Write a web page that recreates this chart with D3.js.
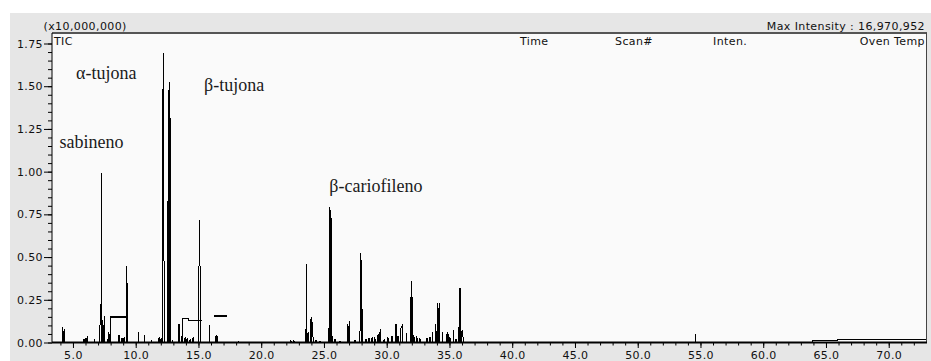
<!DOCTYPE html>
<html>
<head>
<meta charset="utf-8">
<script src="https://cdn.jsdelivr.net/npm/d3@7"></script>
<style>
  html, body { margin: 0; padding: 0; background: #ffffff; }
  svg { display: block; }
  .ui { font-family: "DejaVu Sans", sans-serif; font-size: 11px; letter-spacing: 0.4px; fill: #111; }
  .cmp { font-family: "Liberation Serif", "Times New Roman", serif; font-size: 18px; fill: #1a1a1a; }
</style>
</head>
<body>
<script>
// Total ion chromatogram, intensity in units of 10,000,000 counts
const timeRange = [3.33, 72.97];
const intensityTicks = [0, 0.25, 0.5, 0.75, 1.0, 1.25, 1.5, 1.75];
const intensityMinorTicks = d3.range(0, 1.8, 0.05);
const timeTicks = [5, 10, 15, 20, 25, 30, 35, 40, 45, 50, 55, 60, 65, 70];
const timeMinorTicks = d3.range(4, 73, 1);
const maxIntensity = 16970952;
const columnHeads = ["Time", "Scan#", "Inten.", "Oven Temp"];

// detected signal apexes: [retention time (min), intensity (x10^7)]
const peakTimes = [
  4.15, 4.29, 5.88, 6.04, 6.18, 6.70,
  7.16, 7.23, 7.29, 7.39, 7.50, 7.74, 7.87,
  8.67, 8.91, 9.07, 9.28, 9.35,
  10.21, 10.69, 11.27, 11.86, 12.02,
  12.15, 12.20, 12.25,
  12.55, 12.60, 12.73, 12.95,
  13.45, 13.67, 13.93, 14.09, 14.33, 14.57,
  15.02, 15.07, 15.12, 15.18,
  15.86, 16.40, 16.48, 18.18, 22.37, 22.61,
  23.53, 23.63, 23.73, 23.97, 24.05, 24.13, 24.37, 24.68,
  25.40, 25.46, 25.56, 25.64, 25.88, 26.28,
  26.89, 27.00, 27.47,
  27.87, 27.95, 28.06, 28.35, 28.59, 28.83, 29.06,
  29.31, 29.47, 29.79, 30.10, 30.42, 30.74, 30.90,
  31.14, 31.22, 31.59,
  31.91, 32.01, 32.17, 32.41, 32.65,
  33.21, 33.45, 33.63, 33.92, 34.05, 34.17, 34.43,
  34.78, 34.88, 35.04, 35.34, 35.52,
  35.76, 35.84, 36.00, 36.08,
  54.62
];
const peakHeights = [
  0.092, 0.080, 0.022, 0.024, 0.035, 0.020,
  0.130, 0.140, 0.993, 0.130, 0.157, 0.020, 0.060,
  0.045, 0.025, 0.030, 0.448, 0.186,
  0.061, 0.044, 0.015, 0.030, 0.025,
  1.260, 1.697, 0.640,
  0.196, 1.477, 1.526, 0.015,
  0.108, 0.035, 0.030, 0.025, 0.020, 0.030,
  0.190, 0.716, 0.470, 0.180,
  0.102, 0.044, 0.040, 0.010, 0.012, 0.012,
  0.080, 0.457, 0.060, 0.150, 0.120, 0.030, 0.015, 0.010,
  0.040, 0.795, 0.778, 0.040, 0.020, 0.010,
  0.110, 0.125, 0.015,
  0.050, 0.522, 0.196, 0.020, 0.025, 0.030, 0.030,
  0.050, 0.079, 0.020, 0.030, 0.040, 0.106, 0.040,
  0.090, 0.098, 0.054,
  0.264, 0.360, 0.045, 0.035, 0.025,
  0.025, 0.030, 0.064, 0.107, 0.233, 0.230, 0.060,
  0.050, 0.060, 0.030, 0.073, 0.020,
  0.090, 0.317, 0.070, 0.030,
  0.048
];

// late baseline drift: [start time, end time, level]
const driftStarts = [63.91, 65.90];
const driftEnds = [65.90, 72.97];
const driftLevels = [0.010, 0.016];

// integration marks drawn over the trace: [time, intensity] vertices
const markA = [[8.01, 0], [8.01, 0.150], [9.35, 0.150]];
const markB = [[13.74, 0], [13.74, 0.142], [14.19, 0.142], [14.19, 0.130], [15.26, 0.130]];
const markC = [[16.24, 0.155], [17.25, 0.155]];

// compound names
const compoundNames = ["sabineno", "α-tujona", "β-tujona", "β-cariofileno"];

const W = 931, H = 361;
const panel = { left: 10, top: 13 };
const plot = { left: 52, right: 926, top: 33, bottom: 342.5 };

const svg = d3.select("body").append("svg").attr("width", W).attr("height", H);

const x = d3.scaleLinear().domain(timeRange).range([plot.left, plot.right]);
const y = d3.scaleLinear().domain([0, 1.75]).range([plot.bottom, 43.5]);

// backgrounds
svg.append("rect").attr("x", panel.left).attr("y", panel.top)
  .attr("width", W - panel.left).attr("height", H - panel.top).attr("fill", "#e6e6e6");
svg.append("rect").attr("x", plot.left).attr("y", plot.top)
  .attr("width", plot.right - plot.left).attr("height", plot.bottom - plot.top).attr("fill", "#fafafa");

// frame: top and right borders
svg.append("line").attr("x1", plot.left).attr("x2", plot.right + 1)
  .attr("y1", plot.top).attr("y2", plot.top).attr("stroke", "#555").attr("stroke-width", 2);
svg.append("line").attr("x1", plot.right + 0.5).attr("x2", plot.right + 0.5)
  .attr("y1", plot.top).attr("y2", plot.bottom).attr("stroke", "#444").attr("stroke-width", 1);

// build the chromatogram path from the apex list
const order = d3.range(peakTimes.length).sort((a, b) => peakTimes[a] - peakTimes[b]);
const half = 0.02, joinGap = 0.08;
const trace = [[timeRange[0], 0]];
let prevT = null;
order.forEach(i => {
  const t = peakTimes[i], h = peakHeights[i];
  if (prevT === null || t - prevT > joinGap) {
    if (prevT !== null) trace.push([prevT + half, 0]);
    trace.push([t - half, 0]);
  }
  trace.push([t, h]);
  prevT = t;
});
trace.push([prevT + half, 0]);
driftStarts.forEach((s, i) => {
  trace.push([s, i ? driftLevels[i - 1] : 0]);
  trace.push([s, driftLevels[i]]);
  trace.push([driftEnds[i], driftLevels[i]]);
});

const line = d3.line().x(d => x(d[0])).y(d => y(d[1]));

svg.append("path").datum(trace).attr("d", line)
  .attr("fill", "none").attr("stroke", "#000").attr("stroke-width", 1)
  .attr("shape-rendering", "crispEdges");

[markA, markB, markC].forEach(m => {
  svg.append("path").datum(m).attr("d", line)
    .attr("fill", "none").attr("stroke", "#000").attr("stroke-width", 1.3)
    .attr("shape-rendering", "crispEdges");
});

// intensity axis
const yMinor = svg.append("g").attr("transform", `translate(${plot.left},0)`)
  .call(d3.axisLeft(y).tickValues(intensityMinorTicks).tickSize(4).tickFormat(""));
yMinor.select(".domain").remove();
const yAxis = svg.append("g").attr("transform", `translate(${plot.left},0)`)
  .call(d3.axisLeft(y).tickValues(intensityTicks).tickSize(8).tickPadding(1)
    .tickFormat(d3.format(".2f")));
yAxis.select(".domain").attr("d", `M0,${plot.top}V${plot.bottom}`);
yAxis.selectAll("text").attr("class", "ui").attr("fill", null).attr("font-family", null).attr("font-size", null);

// time axis
const xMinor = svg.append("g").attr("transform", `translate(0,${plot.bottom})`)
  .call(d3.axisBottom(x).tickValues(timeMinorTicks).tickSize(3).tickFormat(""));
xMinor.select(".domain").remove();
const xAxis = svg.append("g").attr("transform", `translate(0,${plot.bottom})`)
  .call(d3.axisBottom(x).tickValues(timeTicks).tickSize(5.5).tickPadding(3)
    .tickFormat(d3.format(".1f")));
xAxis.select(".domain").attr("d", `M${plot.left},0H${plot.right + 1}`)
  .attr("stroke", "#000").attr("stroke-width", 2);
xAxis.selectAll("text").attr("class", "ui").attr("fill", null).attr("font-family", null).attr("font-size", null);
svg.selectAll(".tick line").attr("stroke", "#000");

// header texts
svg.append("text").attr("class", "ui").attr("x", 43.5).attr("y", 29.5).text("(x10,000,000)");
svg.append("text").attr("class", "ui").attr("x", 925).attr("y", 29.5).attr("text-anchor", "end")
  .text("Max Intensity : " + d3.format(",")(maxIntensity));
svg.append("text").attr("class", "ui").attr("x", 54).attr("y", 45).text("TIC");
const headX = [520, 615, 713, 925];
columnHeads.forEach((h, i) => {
  svg.append("text").attr("class", "ui").attr("x", headX[i]).attr("y", 45)
    .attr("text-anchor", i === columnHeads.length - 1 ? "end" : "start").text(h);
});

// compound labels
const labelPos = [[59.5, 148.3], [76, 79.3], [204, 90.7], [329.3, 191.7]];
compoundNames.forEach((n, i) => {
  svg.append("text").attr("class", "cmp").attr("x", labelPos[i][0]).attr("y", labelPos[i][1]).text(n);
});
</script>
</body>
</html>
